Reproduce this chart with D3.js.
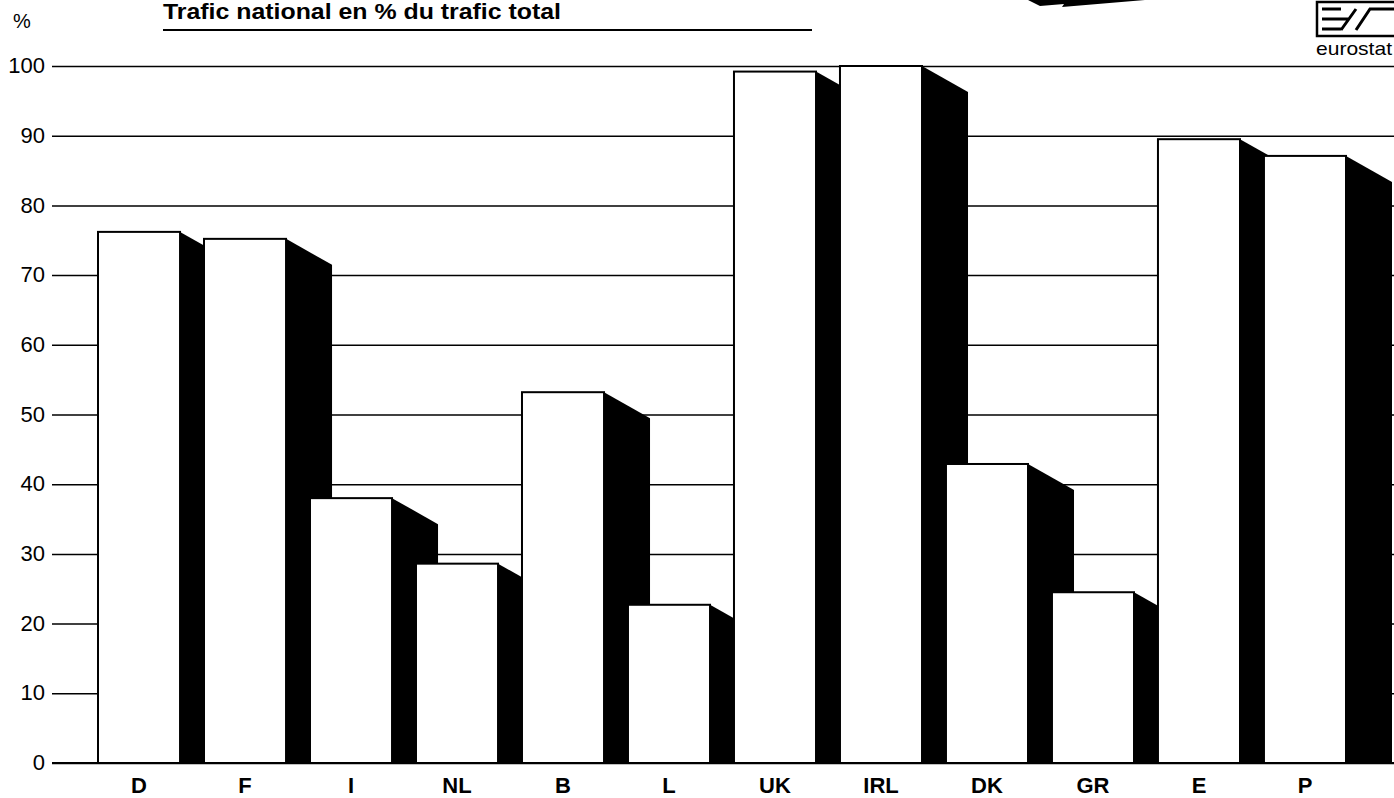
<!DOCTYPE html>
<html>
<head>
<meta charset="utf-8">
<script src="https://cdn.jsdelivr.net/npm/d3@7"></script>
<style>
  body { margin: 0; background: #fff; }
  svg { display: block; font-family: "Liberation Sans", Arial, sans-serif; }
</style>
</head>
<body>
<script>
// data
var countries = ["D", "F", "I", "NL", "B", "L", "UK", "IRL", "DK", "GR", "E", "P"];
var shares = [76.2, 75.2, 38.0, 28.6, 53.2, 22.7, 99.2, 100, 42.9, 24.5, 89.5, 87.1];
var tickValues = [0, 10, 20, 30, 40, 50, 60, 70, 80, 90, 100];
var title = "Trafic national en % du trafic total";

var W = 1394, H = 798;
var left = 52, baseY = 763, topY = 66;

var svg = d3.select("body").append("svg")
    .attr("width", W)
    .attr("height", H);

var x = d3.scaleBand()
    .domain(countries)
    .range([98, 1346])
    .paddingInner(0.226)
    .paddingOuter(0)
    .align(0);

var y = d3.scaleLinear()
    .domain([0, 100])
    .range([baseY, topY]);

// gridlines + tick labels
var yAxis = svg.append("g")
    .attr("transform", "translate(" + left + ",0)")
    .call(d3.axisLeft(y).tickValues(tickValues).tickSize(-(W - left)).tickPadding(7));
yAxis.select(".domain").remove();
yAxis.selectAll(".tick line").attr("stroke", "#000").attr("stroke-width", 1.5);
yAxis.selectAll(".tick text")
    .attr("fill", "#000")
    .attr("font-size", 22)
    .attr("dy", "0.3em");

// bars: shadow first, then front face, left to right
var depthX = 46, depthY = 26;
var data = countries.map(function(c, i) { return {name: c, value: shares[i]}; });

var bars = svg.append("g").selectAll("g")
    .data(data)
  .enter().append("g");

bars.append("path")
    .attr("fill", "#000")
    .attr("d", function(d) {
      var x1 = x(d.name) + x.bandwidth(), yt = y(d.value);
      return "M" + x1 + "," + yt +
             "L" + (x1 + depthX) + "," + (yt + depthY) +
             "L" + (x1 + depthX) + "," + baseY +
             "L" + x1 + "," + baseY + "Z";
    });

bars.append("rect")
    .attr("x", function(d) { return x(d.name); })
    .attr("y", function(d) { return y(d.value); })
    .attr("width", x.bandwidth())
    .attr("height", function(d) { return baseY - y(d.value); })
    .attr("fill", "#fff")
    .attr("stroke", "#000")
    .attr("stroke-width", 2);

// baseline
svg.append("line")
    .attr("x1", left).attr("x2", W)
    .attr("y1", baseY).attr("y2", baseY)
    .attr("stroke", "#000").attr("stroke-width", 2.2);

// category labels
svg.append("g").selectAll("text")
    .data(countries)
  .enter().append("text")
    .attr("x", function(d) { return x(d) + x.bandwidth() / 2; })
    .attr("y", 793)
    .attr("text-anchor", "middle")
    .attr("font-size", 22)
    .attr("font-weight", "bold")
    .text(function(d) { return d; });

// unit + title
svg.append("text")
    .attr("x", 13).attr("y", 28)
    .attr("font-size", 20)
    .text("%");

svg.append("text")
    .attr("x", 163).attr("y", 19)
    .attr("font-size", 22)
    .attr("font-weight", "bold")
    .attr("textLength", 398)
    .attr("lengthAdjust", "spacingAndGlyphs")
    .text(title);

svg.append("line")
    .attr("x1", 163).attr("x2", 812)
    .attr("y1", 30).attr("y2", 30)
    .attr("stroke", "#000").attr("stroke-width", 1.8);

// pen stroke at the top
svg.append("path")
    .attr("fill", "#000")
    .attr("d", "M1028,0 L1145,0 L1062,7 L1064,4 L1040,6 Z");

// eurostat logo
var logo = svg.append("g");
logo.append("rect")
    .attr("x", 1317).attr("y", 2)
    .attr("width", 80).attr("height", 34)
    .attr("fill", "none").attr("stroke", "#000").attr("stroke-width", 2.5);
logo.append("path")
    .attr("fill", "none").attr("stroke", "#000").attr("stroke-width", 3)
    .attr("d", "M1322,9 L1341,9 M1322,19 L1349,19 M1322,29 L1341,29 " +
               "M1341,30 L1356,9 M1356,30 L1370,9 L1394,9");
logo.append("text")
    .attr("x", 1316).attr("y", 55)
    .attr("font-size", 19)
    .attr("textLength", 76)
    .attr("lengthAdjust", "spacingAndGlyphs")
    .text("eurostat");
</script>
</body>
</html>
